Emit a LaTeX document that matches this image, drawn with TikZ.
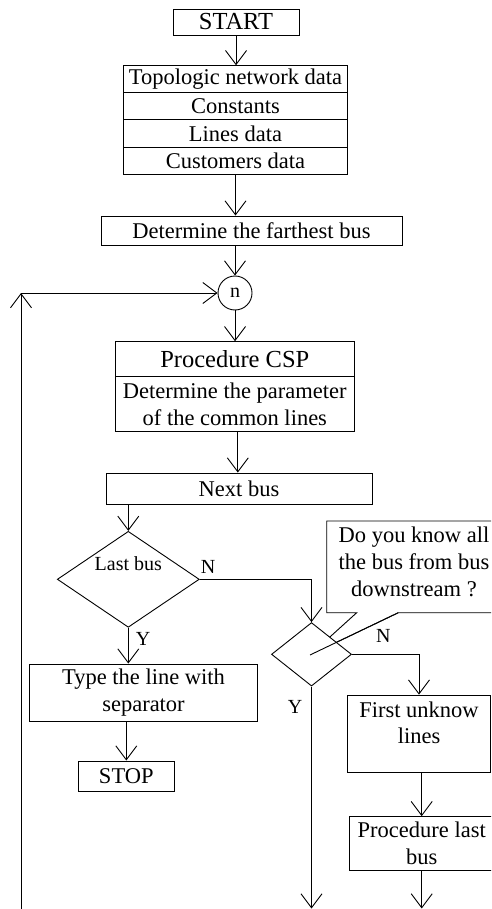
\documentclass[tikz,border=0pt]{standalone}
\usepackage{fontspec}
\setmainfont{Liberation Serif}
\usetikzlibrary{arrows.meta,shapes.geometric}

\begin{document}
\begin{tikzpicture}[x=1pt,y=-1pt,line width=0.9pt,
	arr/.style={-{Straight Barb[length=14pt,width=21pt]}},
	box/.style={draw,fill=white,inner sep=0pt,align=center,font=\fontsize{22.5}{27}\selectfont},
	big/.style={font=\fontsize{24.5}{27}\selectfont},
	tag/.style={inner sep=0pt,font=\fontsize{20}{22}\selectfont},
	boxtext/.style={inner sep=0pt,align=center,font=\fontsize{22.5}{26}\selectfont},
	test/.style={draw,fill=white,diamond,inner sep=0pt}]
			%%%%% START %%%%%
			
			\useasboundingbox (0,0) rectangle (491,909);
			\clip (0,0) rectangle (491,909);
			
			\node[box,big,minimum width=126pt,minimum height=26pt] (start) at (236,22) {START};
			
			\node[box,minimum width=224pt,minimum height=27.1pt] (topo) at (235.5,79.25) {Topologic network data};
			\node[box,minimum width=224pt,minimum height=27.1pt] (const) at (235.5,106.35) {Constants};
			\node[box,minimum width=224pt,minimum height=27.1pt] (lines) at (235.5,133.45) {Lines data};
			\node[box,minimum width=224pt,minimum height=27.1pt] (cust) at (235.5,160.55) {Customers data};
			
			\node[box,minimum width=301pt,minimum height=29pt] (farthest) at (251.5,230.5) {Determine the farthest bus};
			
			\node[draw,circle,fill=white,minimum size=34pt,inner sep=0pt,font=\fontsize{20}{22}\selectfont] (n) at (235,293) {n};
			
			\node[box,big,minimum width=239pt,minimum height=34.3pt] (csp) at (234.8,358.85) {Procedure CSP};
			\node[box,minimum width=239pt,minimum height=55.7pt] (cspb) at (234.8,403.85) {Determine the parameter\\of the common lines};
			
			\node[box,minimum width=266pt,minimum height=31pt] (next) at (239,488.5) {Next bus};
			
			\node[test,minimum width=142pt,minimum height=96pt,
				label={[tag,yshift=15.3pt]center:Last bus}] (last) at (128.3,579.3) {};
			\node[tag] (lastN) at (208,566.7) {N};
			\node[tag] (lastY) at (143,639.3) {Y};
			
			\node[box,minimum width=228.4pt,minimum height=57pt] (type) at (143.5,692.5) {Type the line with\\separator};
			\node[box,minimum width=96pt,minimum height=30pt] (stop) at (126.3,776) {STOP};
			
			% callout
			\coordinate (tip) at (310,655);
			\draw[fill=white] (326.7,612.7) -- (326.7,521) -- (500,521) -- (500,612.7) -- (398.3,612.7)
				-- (tip) -- (356.7,612.7) -- cycle;
			\node[boxtext,font=\fontsize{22.5}{26.7}\selectfont] (ask) at (414,561.7) {Do you know all\\the bus from bus\\downstream ?};
			
			\node[test,minimum width=80pt,minimum height=63.5pt] (check) at (311.5,654.3) {};
			\draw (tip) -- (398.3,612.7);
			\node[tag] (chkN) at (383.3,636) {N};
			\node[tag] (chkY) at (295,706.7) {Y};
			
			\node[draw,minimum width=143pt,minimum height=77.3pt,
				label={[boxtext,yshift=11pt]center:First unknow\\lines}] (first) at (419,733.7) {};
			\node[box,minimum width=145.4pt,minimum height=53.3pt] (plast) at (421.7,843.3) {Procedure last\\bus};
			
			\coordinate (loopbot) at (21,909);
			\coordinate (looptop) at (21,293);
			\coordinate (chkend) at (311.5,908.5);
			\coordinate (plend) at (421.7,908.5);
			
			% connectors
			\draw[arr] (start.south) -- (start.south |- topo.north);
			\draw[arr] (cust.south) -- (cust.south |- farthest.north);
			\draw[arr] (n.north |- farthest.south) -- (n.north);
			\draw[arr] (n.south) -- (n.south |- csp.north);
			\draw[arr] ([xshift=3pt]cspb.south) -- ([xshift=3pt]cspb.south |- next.north);
			\draw[arr] (last.north |- next.south) -- (last.north);
			\draw[arr] (last.east) -| (check.north);
			\draw[arr] (last.south) -- (last.south |- type.north);
			\draw[arr] (stop.north |- type.south) -- (stop.north);
			\draw[arr] (check.south) -- (chkend);
			\draw[arr] (check.east) -| (first.north);
			\draw[arr] (plast.north |- first.south) -- (plast.north);
			\draw[arr] (plast.south) -- (plend);
			\draw[arr] (loopbot) -- (looptop);
			\draw[arr] (looptop) -- (n.west);
			
			%%%%% END %%%%%
\end{tikzpicture}
\end{document}
